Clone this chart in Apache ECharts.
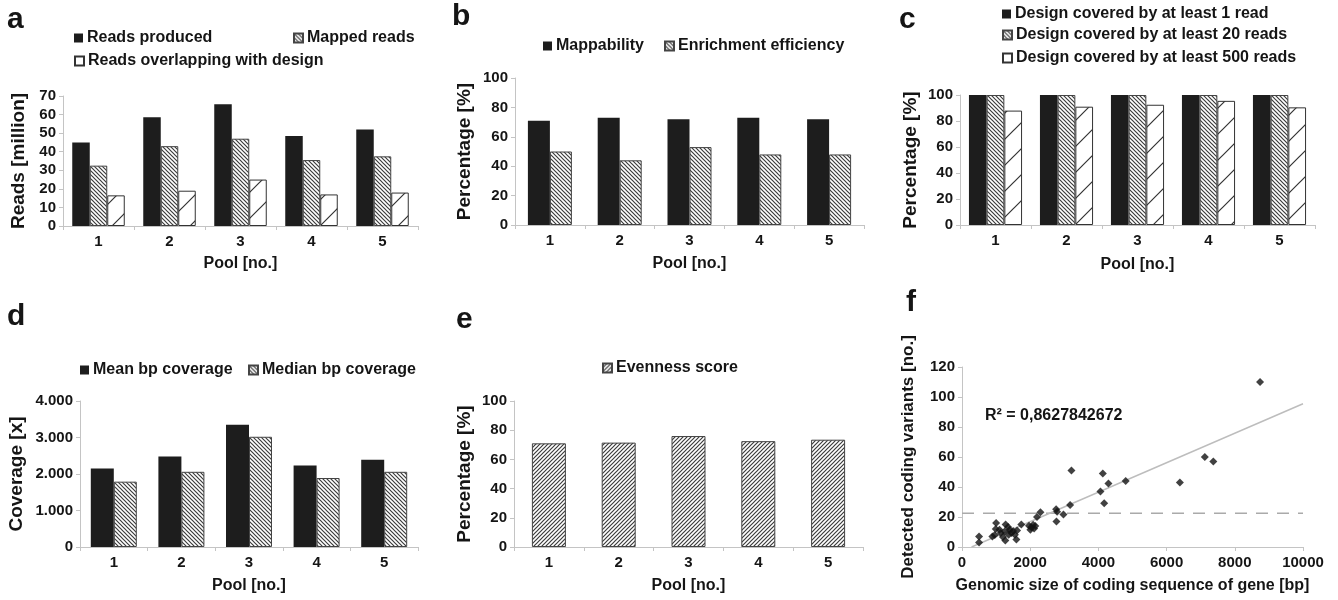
<!DOCTYPE html>
<html>
<head>
<meta charset="utf-8">
<script src="https://cdn.jsdelivr.net/npm/echarts@6/dist/echarts.min.js"></script>
<style>
html,body{margin:0;padding:0;background:#fff;}
#chart{width:1338px;height:600px;}
</style>
</head>
<body>
<div id="chart"></div>
<script>
// ---------- data ----------
const pools = ['1', '2', '3', '4', '5'];
// panel a (million reads)
const readsProduced = [45, 58.5, 65.5, 48.5, 52];
const mappedReads = [32.5, 43, 47, 35.5, 37.5];
const readsOverlapping = [16.5, 19, 25, 17, 18];
// panel b (%)
const mappability = [71, 73, 72, 73, 72];
const enrichmentEfficiency = [50, 44, 53, 48, 48];
// panel c (%)
const covered1 = [100, 100, 100, 100, 100];
const covered20 = [100, 100, 100, 100, 100];
const covered500 = [88, 91, 92.5, 95.5, 90.5];
// panel d (x)
const meanCoverage = [2150, 2480, 3350, 2230, 2390];
const medianCoverage = [1790, 2060, 3020, 1890, 2060];
// panel e (%)
const evennessScore = [71, 71.5, 76, 72.5, 73.5];
// panel f: [genomic size bp, detected variants]
const scatterPoints = [
  [500, 7], [500, 3], [890, 7], [960, 8], [1000, 16], [990, 12], [1100, 11.5],
  [1135, 9.3], [1200, 6.6], [1250, 10.4], [1270, 4.4], [1280, 15], [1350, 13.3],
  [1370, 8.2], [1400, 11.5], [1450, 9.3], [1500, 10.6], [1550, 8.2], [1595, 5],
  [1615, 11], [1740, 15], [1965, 14.2], [2005, 11.5], [2035, 13.1], [2085, 14.8],
  [2115, 12.4], [2150, 14], [2200, 20], [2300, 23.2], [2760, 25.2], [2790, 23.5],
  [2770, 17], [2975, 21.7], [3170, 28], [3210, 51], [4060, 37], [4130, 49],
  [4170, 29.2], [4295, 42.3], [4800, 44], [6390, 43], [7120, 60], [7370, 57],
  [8740, 110]
];
const trendLine = [[280, 0], [10000, 95.5]];
const thresholdLine = [[0, 22.5], [10000, 22.5]];
const r2Text = 'R\u00b2 = 0,8627842672';
const yTicksA = {min: 0, max: 70, interval: 10};
const yTicksPct = {min: 0, max: 100, interval: 20};
const yTicksD = {min: 0, max: 4000, interval: 1000};
const yTicksF = {min: 0, max: 120, interval: 20};
const xTicksF = {min: 0, max: 10000, interval: 2000};

// ---------- patterns ----------
function makePattern(size, kind, color, lw) {
  const c = document.createElement('canvas');
  c.width = size; c.height = size;
  const g = c.getContext('2d');
  g.fillStyle = '#fff';
  g.fillRect(0, 0, size, size);
  g.strokeStyle = color;
  g.lineWidth = lw;
  g.beginPath();
  if (kind === 'back') { // "\"
    for (let k = -1; k <= 1; k++) {
      g.moveTo(k * size - 1, -1);
      g.lineTo(k * size + size + 1, size + 1);
    }
  } else { // "/"
    for (let k = -1; k <= 1; k++) {
      g.moveTo(k * size - 1, size + 1);
      g.lineTo(k * size + size + 1, -1);
    }
  }
  g.stroke();
  return {image: c, repeat: 'repeat'};
}
const denseBack = makePattern(4, 'back', '#3c3c3c', 1.2);
const denseFwd = makePattern(4, 'fwd', '#3c3c3c', 1.2);
const sparseFwd = makePattern(26, 'fwd', '#333', 1.2);

const FONT = "'Liberation Sans', Arial, sans-serif";
const TXT = '#151515';
const AXC = '#c4c4c4';

const black = {color: '#1d1d1d', borderColor: '#1d1d1d', borderWidth: 0};
const hatch = {color: denseBack, borderColor: '#444', borderWidth: 1};
const hatchF = {color: denseFwd, borderColor: '#444', borderWidth: 1};
const white = {color: sparseFwd, borderColor: '#333', borderWidth: 1};

// ---------- layout ----------
const grids = [
  {left: 63, right: 920, top: 96, bottom: 374},   // a
  {left: 515, right: 474, top: 78, bottom: 375},  // b
  {left: 960, right: 23, top: 95, bottom: 375},   // c
  {left: 80, right: 920, top: 401, bottom: 53},   // d
  {left: 514, right: 475, top: 401, bottom: 53},  // e
  {left: 962, right: 35, top: 367, bottom: 53}    // f
];

function catAxis(i, gap) {
  return {
    type: 'category', gridIndex: i, data: pools,
    name: 'Pool [no.]', nameLocation: 'middle', nameGap: gap,
    nameTextStyle: {fontFamily: FONT, fontWeight: 'bold', fontSize: 16, color: TXT},
    axisLine: {lineStyle: {color: AXC, width: 1}},
    axisTick: {show: true, length: 4, lineStyle: {color: AXC}},
    axisLabel: {fontFamily: FONT, fontWeight: 'bold', fontSize: 15, color: TXT, margin: 8},
    splitLine: {show: false}
  };
}
function valAxis(i, ticks, name, gap, fmt, nameSize) {
  return Object.assign({
    type: 'value', gridIndex: i,
    name: name, nameLocation: 'middle', nameGap: gap,
    nameTextStyle: {fontFamily: FONT, fontWeight: 'bold', fontSize: nameSize || 19, color: TXT},
    axisLine: {show: true, lineStyle: {color: AXC, width: 1}},
    axisTick: {show: true, length: 4, lineStyle: {color: AXC}},
    axisLabel: {fontFamily: FONT, fontWeight: 'bold', fontSize: 15, color: TXT, margin: 7,
      formatter: fmt || (v => String(v))},
    splitLine: {show: false}
  }, ticks);
}
const dotFmt = v => v === 0 ? '0' : Math.floor(v / 1000) + '.' + String(v % 1000).padStart(3, '0');

const xAxes = [
  catAxis(0, 30), catAxis(1, 31), catAxis(2, 32), catAxis(3, 31), catAxis(4, 31),
  Object.assign({
    type: 'value', gridIndex: 5,
    name: 'Genomic size of coding sequence of gene [bp]', nameLocation: 'middle', nameGap: 31,
    nameTextStyle: {fontFamily: FONT, fontWeight: 'bold', fontSize: 16, color: TXT},
    axisLine: {show: true, lineStyle: {color: AXC}},
    axisTick: {show: true, length: 4, lineStyle: {color: AXC}},
    axisLabel: {fontFamily: FONT, fontWeight: 'bold', fontSize: 15, color: TXT, margin: 8,
      formatter: v => String(v)},
    splitLine: {show: false}
  }, xTicksF)
];
const yAxes = [
  valAxis(0, yTicksA, 'Reads [million]', 35),
  valAxis(1, yTicksPct, 'Percentage [%]', 41),
  valAxis(2, yTicksPct, 'Percentage [%]', 40),
  valAxis(3, yTicksD, 'Coverage [x]', 54, dotFmt),
  valAxis(4, yTicksPct, 'Percentage [%]', 40),
  valAxis(5, yTicksF, 'Detected coding variants [no.]', 45, undefined, 17)
];

function bar(name, data, ax, style, w) {
  return {
    name: name, type: 'bar', xAxisIndex: ax, yAxisIndex: ax, data: data,
    barWidth: w, barGap: '0%', itemStyle: style, animation: false
  };
}

const series = [
  bar('Reads produced', readsProduced, 0, black, 17.5),
  bar('Mapped reads', mappedReads, 0, hatch, 17.5),
  bar('Reads overlapping with design', readsOverlapping, 0, white, 17.5),
  bar('Mappability', mappability, 1, black, 22),
  bar('Enrichment efficiency', enrichmentEfficiency, 1, hatch, 22),
  bar('Design covered by at least 1 read', covered1, 2, black, 17.7),
  bar('Design covered by at least 20 reads', covered20, 2, hatch, 17.7),
  bar('Design covered by at least 500 reads', covered500, 2, white, 17.7),
  bar('Mean bp coverage', meanCoverage, 3, black, 23),
  bar('Median bp coverage', medianCoverage, 3, hatch, 23),
  bar('Evenness score', evennessScore, 4, hatchF, 34),
  {
    name: 'threshold', type: 'line', xAxisIndex: 5, yAxisIndex: 5, data: thresholdLine,
    symbol: 'none', lineStyle: {color: '#aaaaaa', width: 1.3, type: [12, 9]}, z: 1, animation: false
  },
  {
    name: 'trend', type: 'line', xAxisIndex: 5, yAxisIndex: 5, data: trendLine,
    symbol: 'none', lineStyle: {color: '#bdbdbd', width: 1.4}, z: 1, animation: false
  },
  {
    name: 'genes', type: 'scatter', xAxisIndex: 5, yAxisIndex: 5, data: scatterPoints,
    symbol: 'diamond', symbolSize: 8, itemStyle: {color: '#111'}, z: 3, animation: false
  }
];

function leg(name, left, centerY) {
  return {
    data: [name], left: left, top: centerY - 9, padding: 0,
    itemWidth: 9, itemHeight: 9, icon: 'rect', selectedMode: false,
    textStyle: {fontFamily: FONT, fontWeight: 'bold', fontSize: 16, color: TXT, padding: [0, 0, 0, -1]}
  };
}
const legends = [
  leg('Reads produced', 74, 39),
  leg('Mapped reads', 293, 39),
  leg('Reads overlapping with design', 74, 62),
  leg('Mappability', 543, 47),
  leg('Enrichment efficiency', 664, 47),
  leg('Design covered by at least 1 read', 1002, 15),
  leg('Design covered by at least 20 reads', 1002, 36),
  leg('Design covered by at least 500 reads', 1002, 59),
  leg('Mean bp coverage', 80, 371),
  leg('Median bp coverage', 248, 371),
  leg('Evenness score', 602, 369)
];

function letter(t, x, y) {
  return {type: 'text', left: x, top: y, silent: true,
    style: {text: t, font: "bold 30px " + FONT, fill: TXT}};
}
const graphics = [
  letter('a', 7, 5), letter('b', 452, 2), letter('c', 899, 5),
  letter('d', 7, 302), letter('e', 456, 305), letter('f', 906, 288),
  {type: 'text', left: 985, top: 408, silent: true,
   style: {text: r2Text, font: "bold 16px " + FONT, fill: TXT}}
];

const chart = echarts.init(document.getElementById('chart'), null, {renderer: 'canvas'});
chart.setOption({
  backgroundColor: '#fff',
  animation: false,
  grid: grids,
  xAxis: xAxes,
  yAxis: yAxes,
  legend: legends,
  series: series,
  graphic: graphics
});
</script>
</body>
</html>
